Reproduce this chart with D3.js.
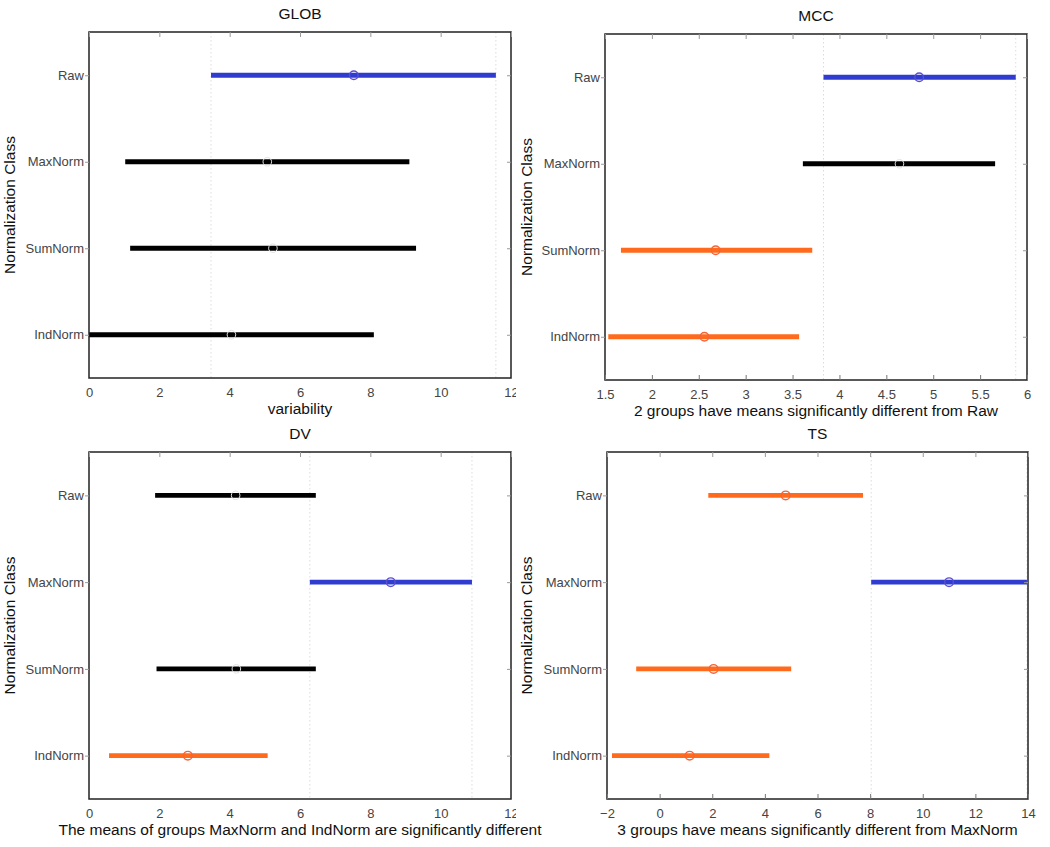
<!DOCTYPE html>
<html><head><meta charset="utf-8">
<script src="https://cdn.jsdelivr.net/npm/d3@7"></script>
<style>body{margin:0;background:#fff}svg{display:block}text{font-family:"Liberation Sans",Arial,sans-serif}</style>
</head><body>
<svg id="c" width="1050" height="847"></svg>
<script>
const classes = ["Raw","MaxNorm","SumNorm","IndNorm"];
const titles = ["GLOB","MCC","DV","TS"];
const xlabels = ["variability","2 groups have means significantly different from Raw",
  "The means of groups MaxNorm and IndNorm are significantly different",
  "3 groups have means significantly different from MaxNorm"];
const xDomains = [[0,12],[1.5,6],[0,12],[-2,14]];
const xTicks = [[0,2,4,6,8,10,12],[1.5,2,2.5,3,3.5,4,4.5,5,5.5,6],[0,2,4,6,8,10,12],[-2,0,2,4,6,8,10,12,14]];
// intervals per panel: low, mean, high for Raw, MaxNorm, SumNorm, IndNorm
const globLow = [3.47,1.03,1.17,0.0], globMean=[7.53,5.07,5.23,4.05], globHigh=[11.57,9.11,9.30,8.10];
const mccLow = [3.83,3.61,1.67,1.535], mccMean=[4.85,4.64,2.68,2.56], mccHigh=[5.88,5.66,3.71,3.57];
const dvLow = [1.88,6.28,1.92,0.57], dvMean=[4.17,8.58,4.19,2.81], dvHigh=[6.45,10.89,6.45,5.08];
const tsLow = [1.85,8.04,-0.89,-1.81], tsMean=[4.79,11.0,2.05,1.14], tsHigh=[7.73,13.96,5.0,4.17];
// status: 0 = selected (blue), 1 = not significant (black), 2 = significantly different (orange)
const globStatus = [0,1,1,1], mccStatus=[0,1,2,2], dvStatus=[1,0,1,2], tsStatus=[2,0,2,2];
const selected = [0,0,1,1];

const panels = [
 {low:globLow,mean:globMean,high:globHigh,status:globStatus},
 {low:mccLow,mean:mccMean,high:mccHigh,status:mccStatus},
 {low:dvLow,mean:dvMean,high:dvHigh,status:dvStatus},
 {low:tsLow,mean:tsMean,high:tsHigh,status:tsStatus}];
const boxes = [
 {x0:89,x1:511,y0:32,y1:378},
 {x0:605,x1:1027,y0:34,y1:380},
 {x0:89,x1:511,y0:452,y1:799},
 {x0:607,x1:1028,y0:452,y1:799}];
const colors = ["#2f3ccf","#000000","#ff6a1c"];
const circColors = ["#5a4fd0","#e4e4e4","#f2643a"];

const svg = d3.select("#c");
svg.append("defs").append("clipPath").attr("id","leftclip").append("rect")
  .attr("x",0).attr("y",0).attr("width",516).attr("height",847);

panels.forEach((p,i)=>{
  const b = boxes[i];
  const g = svg.append("g");
  const x = d3.scaleLinear().domain(xDomains[i]).range([b.x0,b.x1]);
  const y = d3.scaleLinear().domain([0.5,4.5]).range([b.y0,b.y1]);
  const yOf = k => y(k+1);
  const s = selected[i];
  [p.low[s],p.high[s]].forEach(v=>{
    g.append("line").attr("x1",x(v)).attr("x2",x(v)).attr("y1",b.y0).attr("y2",b.y1)
      .attr("stroke","#dcdcdc").attr("stroke-width",1).attr("stroke-dasharray","1.5,2.5");
  });
  classes.forEach((c,k)=>{
    g.append("line").attr("x1",x(Math.max(p.low[k],xDomains[i][0]))).attr("x2",x(Math.min(p.high[k],xDomains[i][1])))
      .attr("y1",yOf(k)).attr("y2",yOf(k))
      .attr("stroke",colors[p.status[k]]).attr("stroke-width",4.8);
    g.append("circle").attr("cx",x(p.mean[k])).attr("cy",yOf(k)).attr("r",4.3)
      .attr("fill","none").attr("stroke",circColors[p.status[k]]).attr("stroke-width",p.status[k]===1?1:1.4);
  });
  g.append("rect").attr("x",b.x0).attr("y",b.y0).attr("width",b.x1-b.x0).attr("height",b.y1-b.y0)
    .attr("fill","none").attr("stroke","#222").attr("stroke-width",1.5);
  const xb = d3.axisBottom(x).tickValues(xTicks[i]).tickSizeInner(-5).tickSizeOuter(0).tickPadding(10)
    .tickFormat(d=>d3.format("")(d));
  const ax = g.append("g").attr("transform",`translate(0,${b.y1})`).call(xb);
  if (i%2===0) ax.attr("clip-path","url(#leftclip)");
  ax.select(".domain").remove();
  ax.selectAll("line").attr("stroke","#777");
  ax.selectAll("text").attr("font-size",13).attr("fill","#444");
  const xt = g.append("g").attr("transform",`translate(0,${b.y0})`).call(d3.axisTop(x).tickValues(xTicks[i]).tickSizeInner(-5).tickSizeOuter(0).tickFormat(""));
  xt.select(".domain").remove(); xt.selectAll("line").attr("stroke","#999");
  const yl = d3.axisLeft(y).tickValues([1,2,3,4]).tickSizeInner(4).tickSizeOuter(0).tickPadding(1).tickFormat(d=>classes[d-1]);
  const ay = g.append("g").attr("transform",`translate(${b.x0},0)`).call(yl);
  ay.select(".domain").remove();
  ay.selectAll("line").attr("stroke","#999");
  ay.selectAll("text").attr("font-size",13).attr("fill","#444");
  const yr = g.append("g").attr("transform",`translate(${b.x1},0)`).call(d3.axisRight(y).tickValues([1,2,3,4]).tickSizeInner(-4).tickSizeOuter(0).tickFormat(""));
  yr.select(".domain").remove(); yr.selectAll("line").attr("stroke","#999");
  const cx = (b.x0+b.x1)/2;
  g.append("text").attr("x",cx).attr("y",b.y0-13).attr("text-anchor","middle").attr("font-size",15.5).attr("fill","#111").text(titles[i]);
  g.append("text").attr("x",cx).attr("y",b.y1+36).attr("text-anchor","middle").attr("font-size",15.5).attr("fill","#111").text(xlabels[i]);
  const lx = i%2===0 ? 15 : 532;
  g.append("text").attr("transform",`translate(${lx},${(b.y0+b.y1)/2}) rotate(-90)`).attr("text-anchor","middle")
    .attr("font-size",15.5).attr("fill","#111").text("Normalization Class");
});
</script>
</body></html>
